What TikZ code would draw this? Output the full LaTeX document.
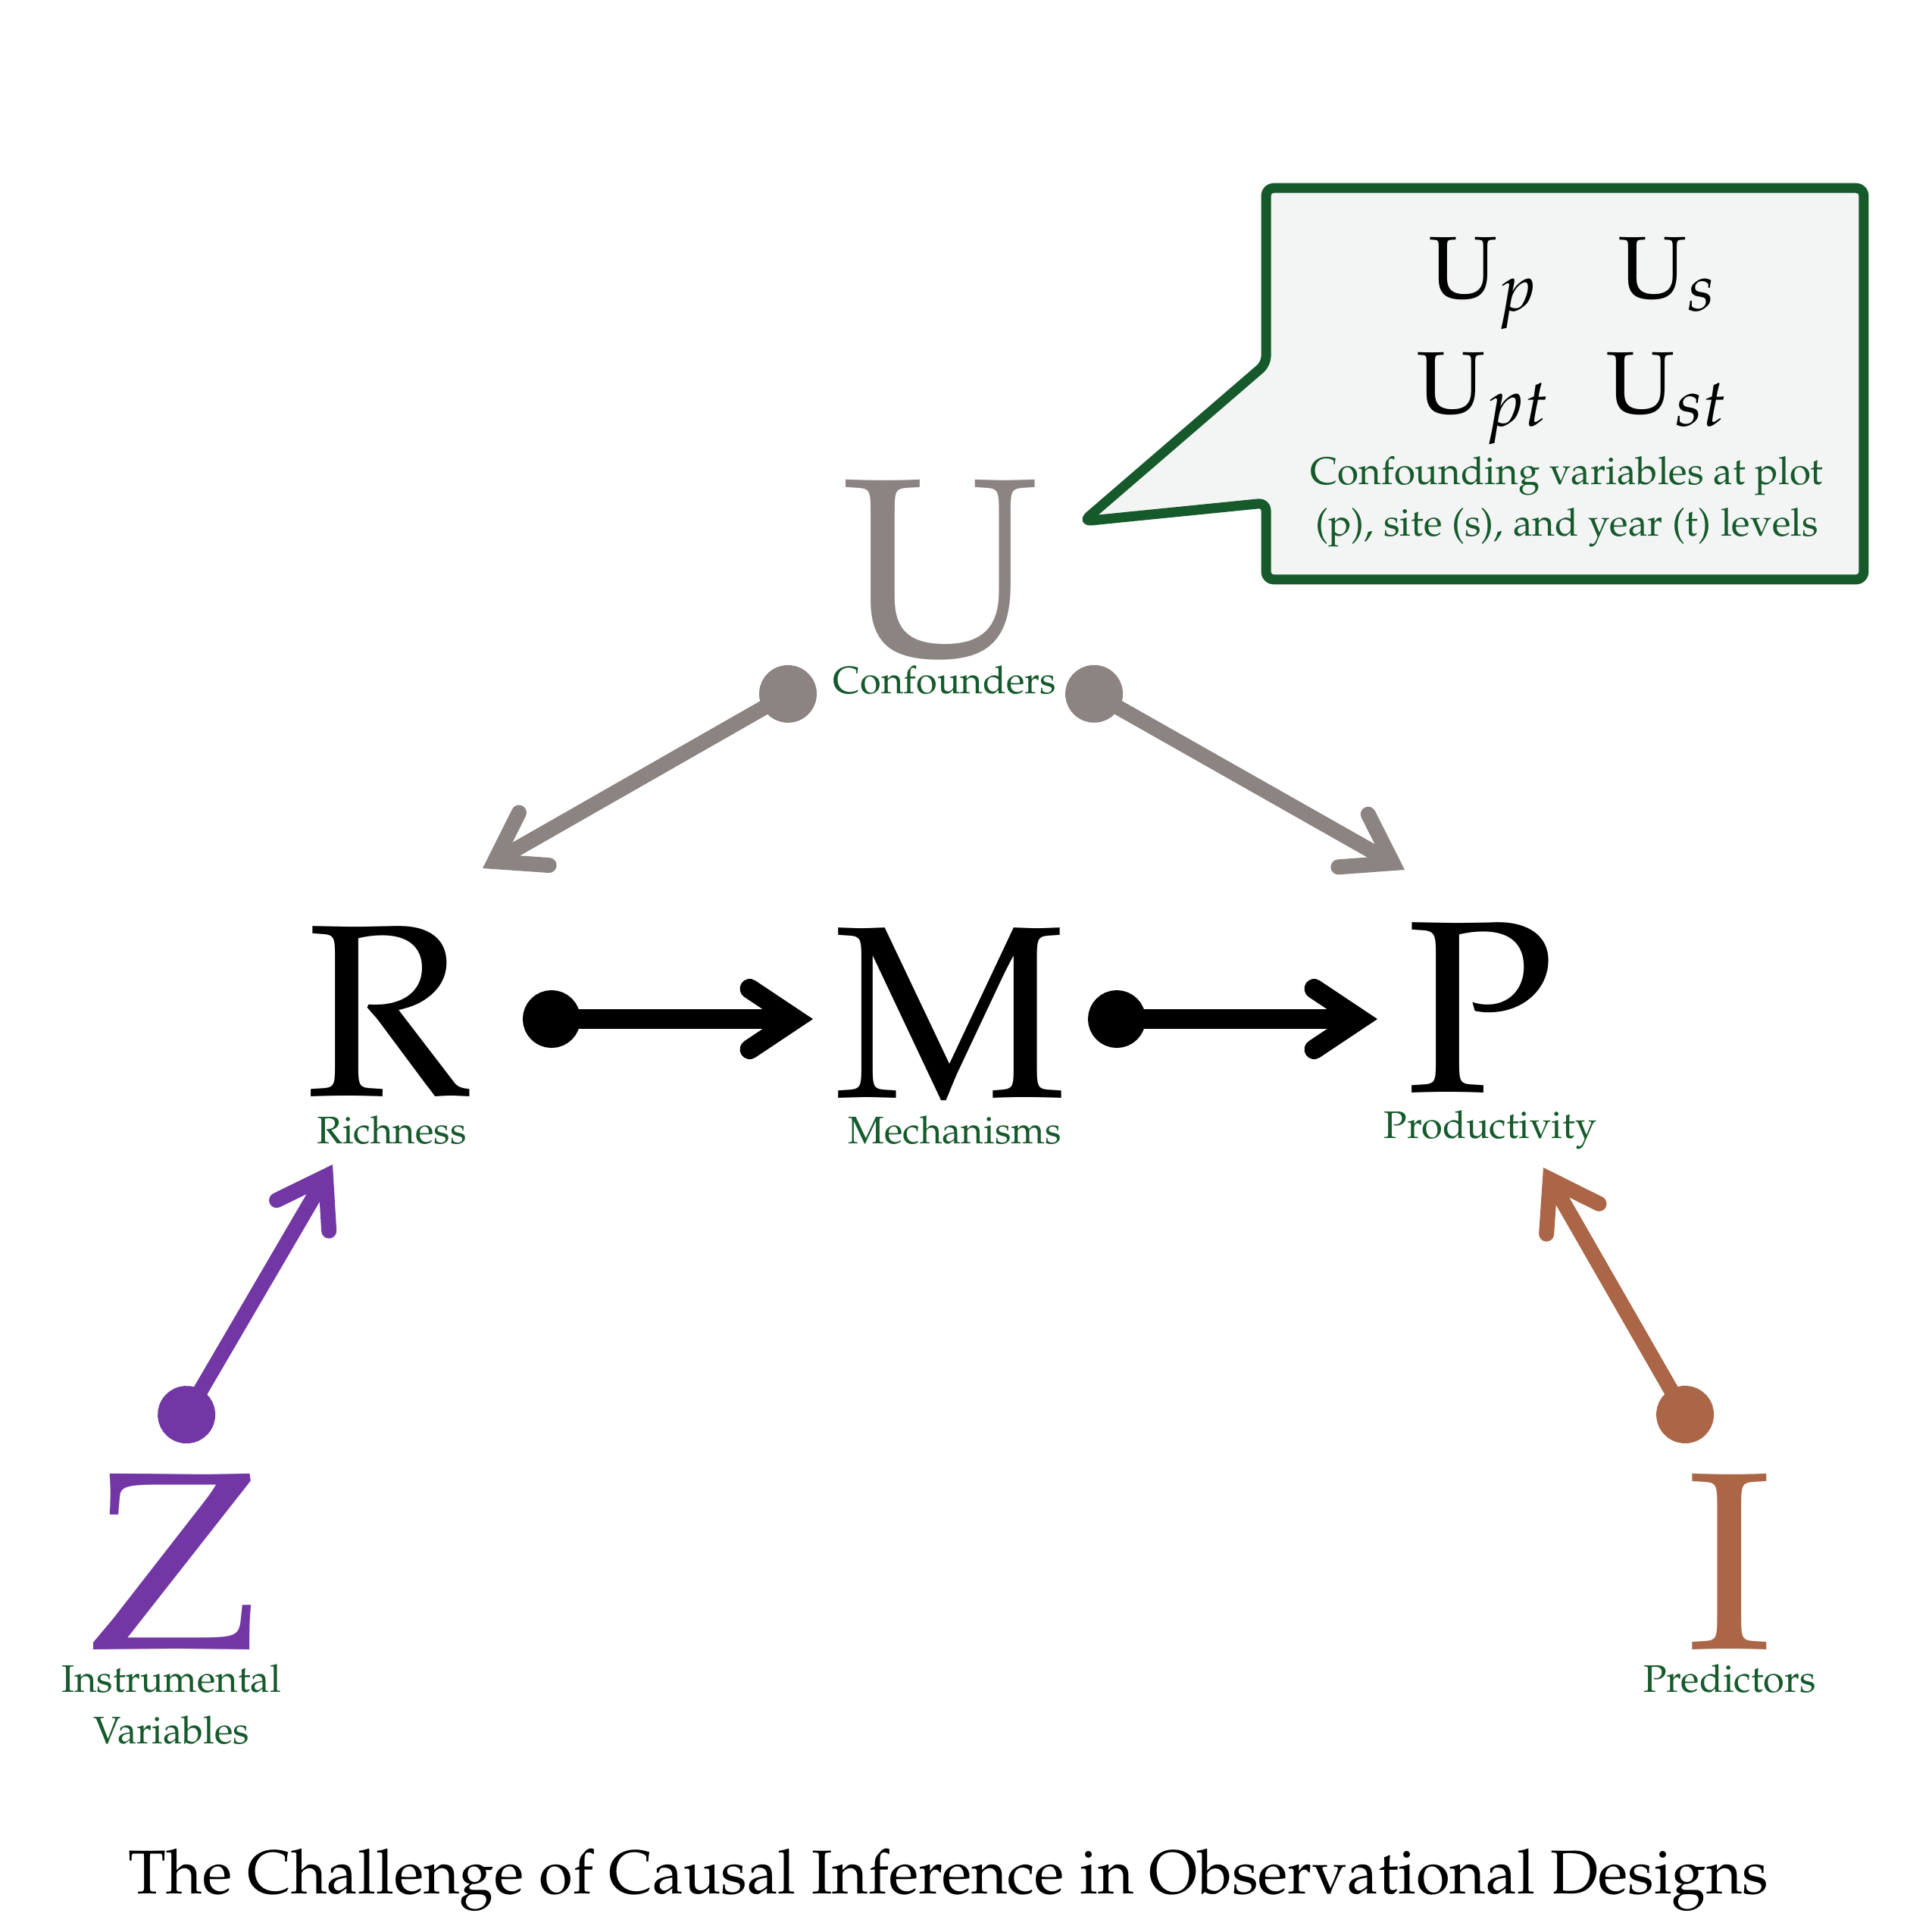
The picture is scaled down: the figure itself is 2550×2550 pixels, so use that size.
\documentclass[tikz,border=0pt]{standalone}
\usepackage[T1]{fontenc}
\usepackage{mathpazo}
\usetikzlibrary{arrows.meta}

\definecolor{confGray}{HTML}{8C8383}
\definecolor{ivPurple}{HTML}{7237A5}
\definecolor{predBrown}{HTML}{AA6647}
\definecolor{labelGreen}{HTML}{165A2C}
\definecolor{noteFill}{HTML}{F3F5F4}

\begin{document}
\begin{tikzpicture}[x=0.01cm, y=-0.01cm,
    bigletter/.style={inner sep=0pt, anchor=base, font=\fontsize{92}{92}\selectfont},
    tag/.style={inner sep=0pt, anchor=base, text=labelGreen, font=\fontsize{14.4}{18}\selectfont},
    causal/.style={line width=0.26cm, {Circle[length=0.76cm]}-{Straight Barb[length=0.6cm, width=0.8cm, line cap=round]}},
    colourlink/.style={causal, line width=0.2cm, color=#1},
    sublabel/.style={inner sep=0pt, anchor=base, font=\fontsize{33}{33}\selectfont}]

    % Fix the canvas
    \useasboundingbox (0,0) rectangle (2550,2550);

    % Variables
    \node[bigletter, text=confGray, font=\fontsize{95}{95}\selectfont] (U) at (1242,864) {U};
    \node[bigletter] (R) at (512,1446) {R};
    \node[bigletter] (M) at (1255,1448) {M};
    \node[bigletter] (P) at (1954,1441) {P};
    \node[bigletter, text=ivPurple, font=\fontsize{95}{95}\selectfont] (Z) at (230,2176) {Z};
    \node[bigletter, text=predBrown, font=\fontsize{95}{95}\selectfont] (I) at (2283,2176) {I};

    % Labels
    \node[tag] (Ulabel) at (1247,915) {Confounders};
    \node[tag] (Rlabel) at (517,1509) {Richness};
    \node[tag] (Mlabel) at (1260,1509) {Mechanisms};
    \node[tag] (Plabel) at (1967,1502) {Productivity};
    \node[tag] (Zlabel) at (226,2233) {Instrumental};
    \node[tag] (Zlabel2) at (226,2301) {Variables};
    \node[tag] (Ilabel) at (2283,2233) {Predictors};

    % Callout box
    \node[minimum width=7.87cm, minimum height=5.15cm, inner sep=0pt] (note) at (2065.5,506.5) {};
    \coordinate (notetip) at (1430,688);
    \filldraw[fill=noteFill, draw=labelGreen, line width=0.13cm, rounded corners=0.1cm, line join=round]
        (note.north west) -- (note.north east) -- (note.south east) -- (note.south west)
        -- ([shift={(0,-101)}]note.south west) -- (notetip)
        -- ([shift={(0,232)}]note.north west) -- cycle;
    \node[sublabel] (Up) at (1958,393) {U$_{p}$};
    \node[sublabel] (Us) at (2201,393) {U$_{s}$};
    \node[sublabel] (Upt) at (1958,545) {U$_{pt}$};
    \node[sublabel] (Ust) at (2201,545) {U$_{st}$};
    \node[tag, font=\fontsize{14.5}{18}\selectfont] (note1) at (2068,639) {Confounding variables at plot};
    \node[tag, font=\fontsize{14.5}{18}\selectfont] (note2) at (2068,707) {(p), site (s), and year (t) levels};

    % Causal paths
    \draw[causal] ([shift={(178,-101)}]R.base) -- ([shift={(-182,-103)}]M.base);
    \draw[causal] ([shift={(181,-103)}]M.base) -- ([shift={(-136,-96)}]P.base);
    \draw[colourlink=confGray] ([shift={(-169,33)}]U.base) -- ([shift={(125,-300)}]R.base);
    \draw[colourlink=confGray] ([shift={(169,33)}]U.base) -- ([shift={(-100,-293)}]P.base);
    \draw[colourlink=ivPurple] ([shift={(-3,-276)}]Z.base) -- ([shift={(-73,91)}]R.base);
    \draw[colourlink=predBrown] ([shift={(-40,-276)}]I.base) -- ([shift={(83,100)}]P.base);

    % Title
    \node[inner sep=0pt, anchor=base, font=\fontsize{23.2}{28}\selectfont] (title) at (1252,2499)
        {The Challenge of Causal Inference in Observational Designs};
\end{tikzpicture}
\end{document}
